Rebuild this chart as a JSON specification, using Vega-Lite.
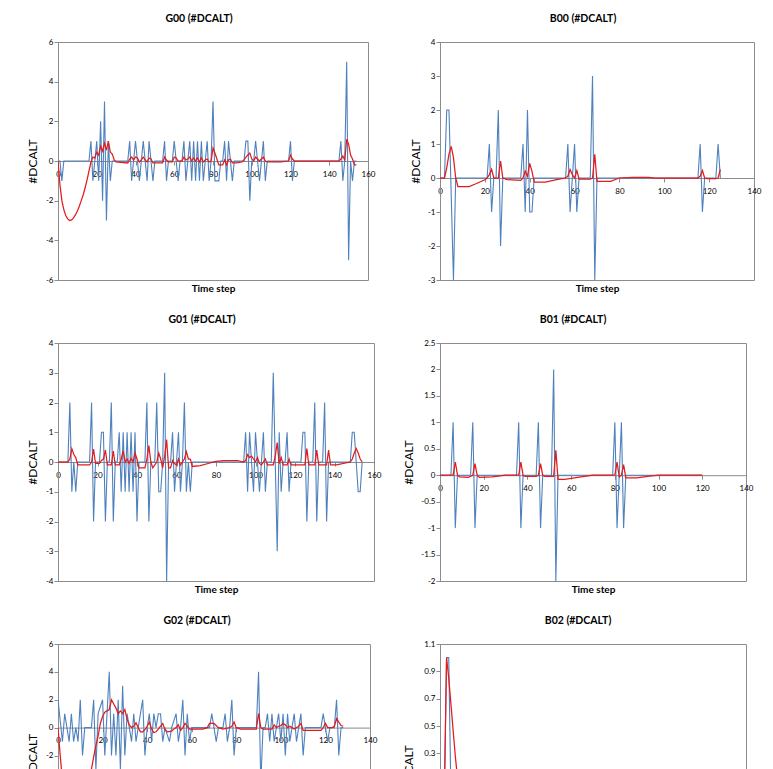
{
  "$schema": "https://vega.github.io/schema/vega-lite/v6.json",
  "padding": {"left": 25, "top": 13, "right": 5, "bottom": 5},
  "background": "white",
  "columns": 2,
  "bounds": "flush",
  "align": "none",
  "spacing": {"row": 63, "column": 66},
  "datasets": {
    "G00b": [{"t":0,"v":0},{"t":1,"v":0},{"t":2,"v":-1},{"t":3,"v":0},{"t":16,"v":0},{"t":17,"v":1},{"t":18,"v":-1},{"t":19,"v":0},{"t":20,"v":1},{"t":21,"v":-1},{"t":22,"v":2},{"t":23,"v":-2},{"t":24,"v":3},{"t":25,"v":-3},{"t":26,"v":1},{"t":27,"v":-1},{"t":28,"v":0},{"t":36,"v":0},{"t":37,"v":1},{"t":38,"v":-1},{"t":39,"v":0},{"t":40,"v":1},{"t":41,"v":0},{"t":42,"v":-1},{"t":43,"v":0},{"t":44,"v":1},{"t":45,"v":0},{"t":46,"v":-1},{"t":47,"v":1},{"t":48,"v":0},{"t":49,"v":-1},{"t":50,"v":0},{"t":54,"v":0},{"t":55,"v":1},{"t":56,"v":-1},{"t":57,"v":0},{"t":59,"v":0},{"t":60,"v":1},{"t":61,"v":0},{"t":62,"v":-1},{"t":63,"v":0},{"t":64,"v":0},{"t":65,"v":1},{"t":66,"v":-1},{"t":67,"v":0},{"t":68,"v":1},{"t":69,"v":-1},{"t":70,"v":1},{"t":71,"v":-1},{"t":72,"v":1},{"t":73,"v":-1},{"t":74,"v":1},{"t":75,"v":-1},{"t":76,"v":0},{"t":77,"v":1},{"t":78,"v":-1},{"t":79,"v":0},{"t":80,"v":3},{"t":81,"v":-1},{"t":82,"v":-1},{"t":83,"v":-1},{"t":84,"v":0},{"t":85,"v":0},{"t":86,"v":1},{"t":87,"v":-1},{"t":88,"v":1},{"t":89,"v":0},{"t":90,"v":-1},{"t":91,"v":0},{"t":96,"v":0},{"t":97,"v":1},{"t":98,"v":1},{"t":99,"v":-2},{"t":100,"v":0},{"t":101,"v":0},{"t":102,"v":1},{"t":103,"v":0},{"t":104,"v":-1},{"t":105,"v":0},{"t":106,"v":1},{"t":107,"v":-1},{"t":108,"v":0},{"t":119,"v":0},{"t":120,"v":1},{"t":121,"v":-1},{"t":122,"v":0},{"t":145,"v":0},{"t":146,"v":1},{"t":147,"v":-1},{"t":148,"v":0},{"t":149,"v":5},{"t":150,"v":-5},{"t":151,"v":0},{"t":152,"v":-1},{"t":153,"v":0},{"t":154,"v":0}],
    "G00r": [{"t":0,"v":0},{"t":1,"v":-1.2},{"t":2,"v":-2.0},{"t":3,"v":-2.45},{"t":4,"v":-2.75},{"t":5,"v":-2.92},{"t":6,"v":-3.0},{"t":7,"v":-2.97},{"t":8,"v":-2.87},{"t":9,"v":-2.72},{"t":10,"v":-2.52},{"t":11,"v":-2.28},{"t":12,"v":-2.0},{"t":13,"v":-1.7},{"t":14,"v":-1.35},{"t":15,"v":-0.95},{"t":16,"v":-0.5},{"t":17,"v":-0.05},{"t":18,"v":0.2},{"t":19,"v":0.15},{"t":20,"v":0.45},{"t":21,"v":0.3},{"t":22,"v":0.75},{"t":23,"v":0.5},{"t":24,"v":0.9},{"t":25,"v":0.55},{"t":26,"v":1.0},{"t":27,"v":0.45},{"t":28,"v":0.35},{"t":29,"v":0.05},{"t":30,"v":-0.05},{"t":36,"v":-0.1},{"t":37,"v":0.1},{"t":38,"v":0.2},{"t":39,"v":0.05},{"t":40,"v":0.2},{"t":41,"v":0.15},{"t":42,"v":-0.05},{"t":43,"v":0.05},{"t":44,"v":0.2},{"t":45,"v":0.05},{"t":46,"v":-0.05},{"t":47,"v":0.15},{"t":48,"v":0.1},{"t":49,"v":-0.1},{"t":54,"v":-0.1},{"t":55,"v":0.2},{"t":56,"v":0.05},{"t":57,"v":-0.05},{"t":59,"v":-0.05},{"t":60,"v":0.2},{"t":61,"v":0.15},{"t":62,"v":0},{"t":64,"v":0},{"t":65,"v":0.2},{"t":66,"v":0.05},{"t":67,"v":0.1},{"t":68,"v":0.2},{"t":69,"v":0},{"t":70,"v":0.15},{"t":71,"v":0},{"t":72,"v":0.15},{"t":73,"v":-0.05},{"t":74,"v":0.15},{"t":75,"v":-0.05},{"t":76,"v":0.05},{"t":77,"v":0.1},{"t":78,"v":-0.05},{"t":79,"v":0},{"t":80,"v":0.65},{"t":81,"v":0.4},{"t":82,"v":0.1},{"t":83,"v":-0.2},{"t":85,"v":-0.2},{"t":86,"v":0.05},{"t":87,"v":-0.2},{"t":88,"v":0.05},{"t":89,"v":0.1},{"t":90,"v":-0.1},{"t":92,"v":-0.1},{"t":95,"v":-0.05},{"t":96,"v":0.05},{"t":97,"v":0.2},{"t":98,"v":0.3},{"t":99,"v":0.4},{"t":100,"v":0.1},{"t":101,"v":0},{"t":102,"v":0.2},{"t":103,"v":0.1},{"t":104,"v":0},{"t":105,"v":0.1},{"t":106,"v":0.2},{"t":107,"v":0},{"t":108,"v":-0.05},{"t":115,"v":-0.05},{"t":119,"v":0},{"t":120,"v":0.3},{"t":121,"v":0.1},{"t":122,"v":0},{"t":145,"v":0},{"t":146,"v":0.1},{"t":147,"v":0.25},{"t":148,"v":0.05},{"t":149,"v":1.1},{"t":150,"v":0.85},{"t":151,"v":0.3},{"t":152,"v":0.1},{"t":153,"v":-0.2},{"t":154,"v":-0.2}],
    "B00b": [{"t":0,"v":0},{"t":2,"v":0},{"t":3,"v":2},{"t":4,"v":2},{"t":6,"v":-3},{"t":7,"v":0},{"t":21,"v":0},{"t":22,"v":1},{"t":23,"v":-1},{"t":24,"v":0},{"t":25,"v":0},{"t":26,"v":2},{"t":27,"v":-2},{"t":28,"v":0},{"t":36,"v":0},{"t":37,"v":1},{"t":38,"v":-1},{"t":39,"v":2},{"t":40,"v":-1},{"t":41,"v":-1},{"t":42,"v":0},{"t":56,"v":0},{"t":57,"v":1},{"t":58,"v":-1},{"t":59,"v":0},{"t":60,"v":1},{"t":61,"v":-1},{"t":62,"v":0},{"t":67,"v":0},{"t":68,"v":3},{"t":69,"v":-3},{"t":70,"v":0},{"t":115,"v":0},{"t":116,"v":1},{"t":117,"v":-1},{"t":118,"v":0},{"t":123,"v":0},{"t":124,"v":1},{"t":125,"v":0}],
    "B00r": [{"t":0,"v":0},{"t":2,"v":0},{"t":3,"v":0.3},{"t":4,"v":0.7},{"t":5,"v":0.93},{"t":6,"v":0.6},{"t":7,"v":0},{"t":8,"v":-0.25},{"t":13,"v":-0.25},{"t":16,"v":-0.17},{"t":20,"v":-0.05},{"t":21,"v":0},{"t":22,"v":0.1},{"t":23,"v":0.26},{"t":24,"v":0},{"t":26,"v":0},{"t":27,"v":0.5},{"t":28,"v":0},{"t":30,"v":-0.05},{"t":36,"v":-0.07},{"t":37,"v":0},{"t":38,"v":0.2},{"t":39,"v":0.05},{"t":40,"v":0.43},{"t":41,"v":0.2},{"t":42,"v":-0.12},{"t":47,"v":-0.12},{"t":52,"v":-0.05},{"t":56,"v":0},{"t":57,"v":0.05},{"t":58,"v":0.25},{"t":59,"v":0.1},{"t":60,"v":0},{"t":61,"v":0.22},{"t":62,"v":-0.03},{"t":67,"v":-0.03},{"t":68,"v":0},{"t":69,"v":0.7},{"t":70,"v":-0.1},{"t":76,"v":-0.1},{"t":80,"v":0},{"t":86,"v":0.02},{"t":93,"v":0.02},{"t":96,"v":0},{"t":115,"v":0},{"t":116,"v":0.05},{"t":117,"v":0.22},{"t":118,"v":0},{"t":119,"v":-0.02},{"t":123,"v":-0.02},{"t":124,"v":0},{"t":125,"v":0.25}],
    "G01b": [{"t":0,"v":0},{"t":5,"v":0},{"t":6,"v":2},{"t":7,"v":-1},{"t":8,"v":0},{"t":9,"v":-1},{"t":10,"v":0},{"t":16,"v":0},{"t":17,"v":2},{"t":18,"v":-2},{"t":19,"v":0},{"t":21,"v":0},{"t":22,"v":1},{"t":23,"v":1},{"t":24,"v":-2},{"t":25,"v":0},{"t":26,"v":0},{"t":27,"v":2},{"t":28,"v":-2},{"t":29,"v":0},{"t":30,"v":0},{"t":31,"v":1},{"t":32,"v":-1},{"t":33,"v":1},{"t":34,"v":-1},{"t":35,"v":1},{"t":36,"v":-1},{"t":37,"v":1},{"t":38,"v":-1},{"t":39,"v":1},{"t":40,"v":-2},{"t":41,"v":0},{"t":44,"v":0},{"t":45,"v":2},{"t":46,"v":-2},{"t":47,"v":0},{"t":49,"v":0},{"t":50,"v":2},{"t":51,"v":-1},{"t":52,"v":-1},{"t":53,"v":0},{"t":54,"v":3},{"t":55,"v":-4},{"t":56,"v":0},{"t":57,"v":0},{"t":58,"v":1},{"t":59,"v":-1},{"t":60,"v":0},{"t":61,"v":1},{"t":62,"v":-1},{"t":63,"v":0},{"t":64,"v":2},{"t":65,"v":-1},{"t":66,"v":0},{"t":67,"v":-1},{"t":68,"v":0},{"t":94,"v":0},{"t":95,"v":1},{"t":96,"v":-1},{"t":97,"v":1},{"t":99,"v":-1},{"t":100,"v":1},{"t":102,"v":-1},{"t":104,"v":1},{"t":105,"v":-1},{"t":106,"v":0},{"t":108,"v":0},{"t":109,"v":3},{"t":111,"v":-3},{"t":112,"v":1},{"t":113,"v":-1},{"t":114,"v":0},{"t":115,"v":0},{"t":116,"v":1},{"t":117,"v":-1},{"t":118,"v":0},{"t":123,"v":0},{"t":124,"v":1},{"t":125,"v":1},{"t":126,"v":-2},{"t":127,"v":0},{"t":129,"v":0},{"t":130,"v":2},{"t":131,"v":-2},{"t":132,"v":0},{"t":134,"v":0},{"t":135,"v":2},{"t":136,"v":-2},{"t":137,"v":0},{"t":148,"v":0},{"t":149,"v":1},{"t":150,"v":1},{"t":152,"v":-1},{"t":153,"v":-1},{"t":154,"v":0}],
    "G01r": [{"t":0,"v":0},{"t":5,"v":0},{"t":6,"v":0.1},{"t":7,"v":0.45},{"t":8,"v":0.25},{"t":9,"v":0.15},{"t":10,"v":-0.1},{"t":16,"v":-0.1},{"t":17,"v":0},{"t":18,"v":0.43},{"t":19,"v":-0.05},{"t":21,"v":-0.05},{"t":22,"v":0.05},{"t":23,"v":0.1},{"t":24,"v":0.4},{"t":25,"v":-0.1},{"t":27,"v":-0.1},{"t":28,"v":0.37},{"t":29,"v":-0.1},{"t":31,"v":-0.1},{"t":32,"v":0.1},{"t":33,"v":0.37},{"t":34,"v":0},{"t":35,"v":0.1},{"t":36,"v":-0.05},{"t":37,"v":0.12},{"t":38,"v":0},{"t":39,"v":0.3},{"t":40,"v":0.1},{"t":41,"v":-0.2},{"t":44,"v":-0.2},{"t":45,"v":0.1},{"t":46,"v":0.55},{"t":47,"v":0},{"t":48,"v":-0.2},{"t":50,"v":0},{"t":51,"v":0.3},{"t":52,"v":0.1},{"t":53,"v":-0.2},{"t":54,"v":0.2},{"t":55,"v":0.75},{"t":56,"v":-0.2},{"t":57,"v":-0.2},{"t":58,"v":0.05},{"t":59,"v":-0.05},{"t":60,"v":-0.1},{"t":61,"v":0.1},{"t":62,"v":-0.1},{"t":63,"v":0},{"t":64,"v":0.1},{"t":65,"v":0.35},{"t":66,"v":0.1},{"t":67,"v":0.1},{"t":68,"v":-0.15},{"t":72,"v":-0.12},{"t":76,"v":-0.05},{"t":80,"v":0.02},{"t":84,"v":0.05},{"t":91,"v":0.05},{"t":94,"v":0},{"t":95,"v":0.05},{"t":96,"v":0.25},{"t":97,"v":0.15},{"t":98,"v":0.2},{"t":99,"v":0.1},{"t":100,"v":0},{"t":101,"v":0.15},{"t":102,"v":-0.05},{"t":103,"v":-0.1},{"t":104,"v":0},{"t":105,"v":0.1},{"t":106,"v":-0.1},{"t":109,"v":-0.1},{"t":110,"v":0.2},{"t":111,"v":0.65},{"t":112,"v":-0.05},{"t":113,"v":0.15},{"t":114,"v":-0.1},{"t":116,"v":-0.1},{"t":117,"v":0.1},{"t":118,"v":-0.1},{"t":125,"v":-0.1},{"t":126,"v":0.45},{"t":127,"v":-0.1},{"t":130,"v":-0.1},{"t":131,"v":0.4},{"t":132,"v":-0.1},{"t":136,"v":-0.1},{"t":137,"v":0.4},{"t":138,"v":-0.1},{"t":141,"v":-0.1},{"t":148,"v":0},{"t":149,"v":0.1},{"t":150,"v":0.3},{"t":151,"v":0.45},{"t":152,"v":0.3},{"t":153,"v":0.1},{"t":154,"v":0}],
    "B01b": [{"t":0,"v":0},{"t":5,"v":0},{"t":6,"v":1},{"t":7,"v":-1},{"t":8,"v":0},{"t":14,"v":0},{"t":15,"v":1},{"t":16,"v":-1},{"t":17,"v":0},{"t":35,"v":0},{"t":36,"v":1},{"t":37,"v":-1},{"t":38,"v":0},{"t":44,"v":0},{"t":45,"v":1},{"t":46,"v":-1},{"t":47,"v":0},{"t":51,"v":0},{"t":52,"v":2},{"t":53,"v":-2},{"t":54,"v":0},{"t":79,"v":0},{"t":80,"v":1},{"t":81,"v":-1},{"t":82,"v":0},{"t":83,"v":1},{"t":84,"v":-1},{"t":85,"v":0},{"t":120,"v":0}],
    "B01r": [{"t":0,"v":0},{"t":6,"v":0},{"t":7,"v":0.25},{"t":8,"v":0},{"t":9,"v":-0.03},{"t":13,"v":-0.04},{"t":14,"v":-0.02},{"t":15,"v":0},{"t":16,"v":0.22},{"t":17,"v":0},{"t":18,"v":-0.04},{"t":24,"v":-0.03},{"t":30,"v":0},{"t":36,"v":0},{"t":37,"v":0.25},{"t":38,"v":0},{"t":39,"v":-0.02},{"t":44,"v":-0.02},{"t":45,"v":0},{"t":46,"v":0.22},{"t":47,"v":0},{"t":48,"v":-0.02},{"t":52,"v":-0.02},{"t":53,"v":0.47},{"t":54,"v":-0.08},{"t":57,"v":-0.08},{"t":63,"v":-0.04},{"t":70,"v":0},{"t":80,"v":0},{"t":81,"v":0.25},{"t":82,"v":-0.03},{"t":83,"v":0},{"t":84,"v":0.2},{"t":85,"v":-0.05},{"t":90,"v":-0.05},{"t":95,"v":-0.02},{"t":100,"v":0},{"t":120,"v":0}],
    "G02b": [{"t":0,"v":2},{"t":2,"v":-1},{"t":3,"v":1},{"t":5,"v":-1},{"t":6,"v":1},{"t":7,"v":-1},{"t":8,"v":0},{"t":9,"v":-1},{"t":10,"v":2},{"t":11,"v":-2},{"t":12,"v":0},{"t":15,"v":0},{"t":16,"v":2},{"t":17,"v":-3},{"t":18,"v":1},{"t":20,"v":2},{"t":21,"v":-2},{"t":22,"v":1},{"t":23,"v":4},{"t":24,"v":-2},{"t":25,"v":1},{"t":26,"v":-2},{"t":27,"v":2},{"t":28,"v":-3},{"t":29,"v":3},{"t":30,"v":-2},{"t":31,"v":1},{"t":32,"v":0},{"t":33,"v":-1},{"t":34,"v":1},{"t":35,"v":-1},{"t":36,"v":0},{"t":37,"v":1},{"t":38,"v":2},{"t":39,"v":-2},{"t":40,"v":0},{"t":41,"v":1},{"t":42,"v":-1},{"t":43,"v":1},{"t":44,"v":0},{"t":45,"v":1},{"t":46,"v":1},{"t":47,"v":-1},{"t":48,"v":0},{"t":50,"v":-1},{"t":51,"v":0},{"t":53,"v":1},{"t":54,"v":-1},{"t":55,"v":0},{"t":56,"v":2},{"t":57,"v":-2},{"t":58,"v":1},{"t":59,"v":-1},{"t":60,"v":0},{"t":68,"v":0},{"t":69,"v":1},{"t":71,"v":-1},{"t":72,"v":0},{"t":74,"v":0},{"t":75,"v":1},{"t":76,"v":-1},{"t":77,"v":0},{"t":78,"v":2},{"t":79,"v":-2},{"t":80,"v":0},{"t":89,"v":0},{"t":90,"v":4},{"t":91,"v":-4},{"t":92,"v":0},{"t":93,"v":0},{"t":94,"v":1},{"t":95,"v":-1},{"t":96,"v":1},{"t":97,"v":-1},{"t":98,"v":0},{"t":99,"v":1},{"t":100,"v":-1},{"t":101,"v":1},{"t":102,"v":-2},{"t":103,"v":1},{"t":104,"v":-1},{"t":105,"v":0},{"t":106,"v":1},{"t":107,"v":-1},{"t":108,"v":0},{"t":109,"v":1},{"t":110,"v":-2},{"t":111,"v":0},{"t":118,"v":0},{"t":119,"v":1},{"t":121,"v":-1},{"t":122,"v":0},{"t":124,"v":0},{"t":125,"v":2},{"t":126,"v":-2},{"t":127,"v":0},{"t":128,"v":0}],
    "G02r": [{"t":0,"v":0},{"t":1,"v":-2.0},{"t":2,"v":-3.8},{"t":3,"v":-5.2},{"t":4,"v":-6.3},{"t":5,"v":-7.0},{"t":6,"v":-7.4},{"t":7,"v":-7.5},{"t":8,"v":-7.3},{"t":9,"v":-6.9},{"t":10,"v":-6.3},{"t":11,"v":-5.6},{"t":12,"v":-4.9},{"t":13,"v":-4.2},{"t":14,"v":-3.6},{"t":15,"v":-3.0},{"t":16,"v":-2.1},{"t":17,"v":-1.3},{"t":18,"v":-0.6},{"t":19,"v":0.3},{"t":20,"v":0.8},{"t":21,"v":1.1},{"t":22,"v":1.2},{"t":23,"v":1.3},{"t":24,"v":2.0},{"t":25,"v":1.7},{"t":26,"v":1.4},{"t":27,"v":1.0},{"t":28,"v":1.2},{"t":29,"v":1.0},{"t":30,"v":1.3},{"t":31,"v":0.6},{"t":32,"v":0.2},{"t":33,"v":0},{"t":34,"v":0.1},{"t":35,"v":0.35},{"t":36,"v":0},{"t":37,"v":-0.3},{"t":38,"v":-0.3},{"t":39,"v":-0.15},{"t":40,"v":0.1},{"t":41,"v":0.4},{"t":42,"v":-0.1},{"t":43,"v":-0.35},{"t":44,"v":-0.3},{"t":45,"v":-0.1},{"t":46,"v":0.1},{"t":47,"v":0.3},{"t":48,"v":-0.15},{"t":49,"v":-0.3},{"t":51,"v":-0.25},{"t":52,"v":-0.1},{"t":53,"v":0},{"t":54,"v":0.2},{"t":55,"v":-0.2},{"t":56,"v":0},{"t":57,"v":0.3},{"t":58,"v":0.1},{"t":59,"v":-0.1},{"t":65,"v":-0.1},{"t":67,"v":0},{"t":68,"v":0.3},{"t":70,"v":0.3},{"t":72,"v":0},{"t":74,"v":-0.1},{"t":77,"v":0},{"t":78,"v":0.1},{"t":79,"v":0.4},{"t":80,"v":0},{"t":82,"v":-0.1},{"t":89,"v":-0.1},{"t":90,"v":1.0},{"t":91,"v":0},{"t":92,"v":-0.1},{"t":96,"v":-0.1},{"t":97,"v":0.2},{"t":98,"v":0},{"t":99,"v":0.1},{"t":100,"v":0.15},{"t":101,"v":0.3},{"t":102,"v":0.2},{"t":103,"v":0},{"t":104,"v":0.1},{"t":105,"v":0},{"t":106,"v":-0.1},{"t":108,"v":0.1},{"t":109,"v":0.3},{"t":110,"v":-0.2},{"t":118,"v":-0.2},{"t":119,"v":0},{"t":120,"v":0.3},{"t":121,"v":0},{"t":123,"v":0},{"t":124,"v":0.1},{"t":125,"v":0.65},{"t":126,"v":0.4},{"t":127,"v":0.15},{"t":128,"v":0.1}],
    "B02b": [{"t":0,"v":0},{"t":2,"v":0},{"t":3,"v":1},{"t":4,"v":1},{"t":5,"v":0},{"t":120,"v":0}],
    "B02r": [{"t":0,"v":0},{"t":2,"v":0},{"t":3,"v":1.0},{"t":4,"v":0.85},{"t":5,"v":0.66},{"t":6,"v":0.47},{"t":7,"v":0.28},{"t":8,"v":0.12},{"t":9,"v":0.03},{"t":10,"v":0},{"t":120,"v":0}]
  },
  "concat": [
    {
      "width": 310, "height": 238,
      "title": {"text": "G00 (#DCALT)", "dx": -14},
      "encoding": {
        "x": {"field": "t", "type": "quantitative", "scale": {"domain": [0, 160], "nice": false, "zero": false},
              "axis": {"title": "Time step", "values": [0,20,40,60,80,100,120,140,160], "offset": -119, "titleY": 130, "titleBaseline": "alphabetic", "labelExpr": "'' + datum.value"}},
        "y": {"field": "v", "type": "quantitative", "scale": {"domain": [-6, 6], "nice": false, "zero": false},
              "axis": {"title": "#DCALT", "values": [-6,-4,-2,0,2,4,6], "titleX": -21.5, "titleBaseline": "alphabetic", "labelExpr": "'' + datum.value"}}
      },
      "layer": [
        {"data": {"name": "G00b"}, "mark": {"type": "line", "color": "#4f81bd", "strokeWidth": 1.1, "clip": true}},
        {"data": {"name": "G00r"}, "mark": {"type": "line", "color": "#e41b1b", "strokeWidth": 1.25, "clip": true}}
      ]
    },
    {
      "width": 314, "height": 238,
      "title": {"text": "B00 (#DCALT)", "dx": -14},
      "encoding": {
        "x": {"field": "t", "type": "quantitative", "scale": {"domain": [0, 140], "nice": false, "zero": false},
              "axis": {"title": "Time step", "values": [0,20,40,60,80,100,120,140], "offset": -102, "titleY": 113, "titleBaseline": "alphabetic", "labelExpr": "'' + datum.value"}},
        "y": {"field": "v", "type": "quantitative", "scale": {"domain": [-3, 4], "nice": false, "zero": false},
              "axis": {"title": "#DCALT", "values": [-3,-2,-1,0,1,2,3,4], "titleX": -21, "titleBaseline": "alphabetic", "labelExpr": "'' + datum.value"}}
      },
      "layer": [
        {"data": {"name": "B00b"}, "mark": {"type": "line", "color": "#4f81bd", "strokeWidth": 1.1, "clip": true}},
        {"data": {"name": "B00r"}, "mark": {"type": "line", "color": "#e41b1b", "strokeWidth": 1.25, "clip": true}}
      ]
    },
    {
      "width": 316, "height": 238,
      "title": {"text": "G01 (#DCALT)", "dx": -14},
      "encoding": {
        "x": {"field": "t", "type": "quantitative", "scale": {"domain": [0, 160], "nice": false, "zero": false},
              "axis": {"title": "Time step", "values": [0,20,40,60,80,100,120,140,160], "offset": -119, "titleY": 130, "titleBaseline": "alphabetic", "labelExpr": "'' + datum.value"}},
        "y": {"field": "v", "type": "quantitative", "scale": {"domain": [-4, 4], "nice": false, "zero": false},
              "axis": {"title": "#DCALT", "values": [-4,-3,-2,-1,0,1,2,3,4], "titleX": -21.7, "titleBaseline": "alphabetic", "labelExpr": "'' + datum.value"}}
      },
      "layer": [
        {"data": {"name": "G01b"}, "mark": {"type": "line", "color": "#4f81bd", "strokeWidth": 1.1, "clip": true}},
        {"data": {"name": "G01r"}, "mark": {"type": "line", "color": "#e41b1b", "strokeWidth": 1.25, "clip": true}}
      ]
    },
    {
      "width": 306, "height": 238,
      "title": {"text": "B01 (#DCALT)", "dx": -20},
      "encoding": {
        "x": {"field": "t", "type": "quantitative", "scale": {"domain": [0, 140], "nice": false, "zero": false},
              "axis": {"title": "Time step", "values": [0,20,40,60,80,100,120,140], "offset": -105.8, "titleY": 116.8, "titleBaseline": "alphabetic", "labelExpr": "'' + datum.value"}},
        "y": {"field": "v", "type": "quantitative", "scale": {"domain": [-2, 2.5], "nice": false, "zero": false},
              "axis": {"title": "#DCALT", "values": [-2,-1.5,-1,-0.5,0,0.5,1,1.5,2,2.5], "titleX": -28, "titleBaseline": "alphabetic", "labelExpr": "'' + datum.value"}}
      },
      "layer": [
        {"data": {"name": "B01b"}, "mark": {"type": "line", "color": "#4f81bd", "strokeWidth": 1.1, "clip": true}},
        {"data": {"name": "B01r"}, "mark": {"type": "line", "color": "#e41b1b", "strokeWidth": 1.25, "clip": true}}
      ]
    },
    {
      "width": 312, "height": 223,
      "title": {"text": "G02 (#DCALT)", "dx": -17},
      "encoding": {
        "x": {"field": "t", "type": "quantitative", "scale": {"domain": [0, 140], "nice": false, "zero": false},
              "axis": {"title": "Time step", "values": [0,20,40,60,80,100,120,140], "offset": -139.4, "titleY": 150.4, "titleBaseline": "alphabetic", "labelExpr": "'' + datum.value"}},
        "y": {"field": "v", "type": "quantitative", "scale": {"domain": [-10, 6], "nice": false, "zero": false},
              "axis": {"title": "#DCALT", "values": [-10,-8,-6,-4,-2,0,2,4,6], "titleX": -22, "titleBaseline": "alphabetic", "labelExpr": "'' + datum.value"}}
      },
      "layer": [
        {"data": {"name": "G02b"}, "mark": {"type": "line", "color": "#4f81bd", "strokeWidth": 1.1, "clip": true}},
        {"data": {"name": "G02r"}, "mark": {"type": "line", "color": "#e41b1b", "strokeWidth": 1.25, "clip": true}}
      ]
    },
    {
      "width": 306, "height": 246,
      "title": {"text": "B02 (#DCALT)", "dx": -15},
      "encoding": {
        "x": {"field": "t", "type": "quantitative", "scale": {"domain": [0, 140], "nice": false, "zero": false},
              "axis": {"title": "Time step", "values": [0,20,40,60,80,100,120,140], "offset": -95.7, "titleY": 106.7, "titleBaseline": "alphabetic", "labelExpr": "'' + datum.value"}},
        "y": {"field": "v", "type": "quantitative", "scale": {"domain": [-0.7, 1.1], "nice": false, "zero": false},
              "axis": {"title": "#DCALT", "values": [-0.7,-0.5,-0.3,-0.1,0.1,0.3,0.5,0.7,0.9,1.1], "titleX": -28, "titleBaseline": "alphabetic", "labelExpr": "'' + datum.value"}}
      },
      "layer": [
        {"data": {"name": "B02b"}, "mark": {"type": "line", "color": "#4f81bd", "strokeWidth": 1.1, "clip": true}},
        {"data": {"name": "B02r"}, "mark": {"type": "line", "color": "#e41b1b", "strokeWidth": 1.25, "clip": true}}
      ]
    }
  ],
  "config": {
    "view": {"stroke": "#8c8c8c", "strokeWidth": 1},
    "font": "Lato",
    "title": {"font": "Lato", "fontSize": 10.5, "fontWeight": "bold", "color": "#000000", "anchor": "middle", "frame": "group", "offset": 14},
    "axis": {"labelFont": "Lato", "labelFontSize": 8, "labelColor": "#000000", "titleFont": "Lato", "titleColor": "#000000", "domainColor": "#8c8c8c", "tickColor": "#8c8c8c", "grid": false, "tickSize": 4, "labelOverlap": false, "labelFlush": false},
    "axisX": {"titleFontSize": 10, "titleFontWeight": "bold", "labelPadding": 5},
    "axisY": {"titleFontSize": 12, "titleFontWeight": "normal", "labelPadding": 1}
  }
}
